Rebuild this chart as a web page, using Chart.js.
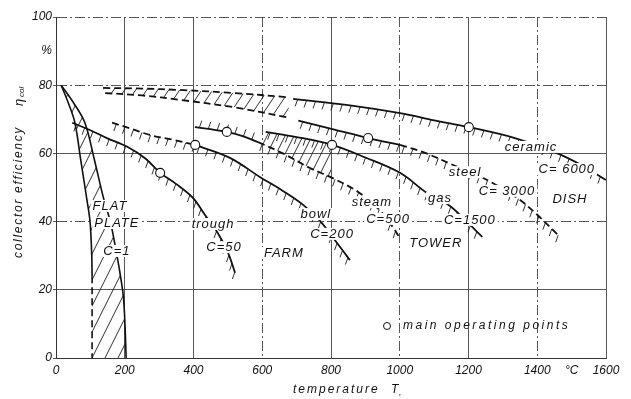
<!DOCTYPE html>
<html>
<head>
<meta charset="utf-8">
<script src="https://cdn.jsdelivr.net/npm/chart.js@4.4.1/dist/chart.umd.min.js"></script>
<style>
  html, body { margin: 0; padding: 0; background: #fff; }
  #wrap { width: 631px; height: 399px; }
</style>
</head>
<body>
<div id="wrap"><canvas id="c" width="631" height="399"></canvas></div>
<script>
// values: [temperature in °C, collector efficiency in %]
const flatLeft = [[15, 80], [35, 75], [55, 69], [72, 58], [89, 47], [99, 40], [104, 30], [105, 24]];
const flatLeftDash = [[105, 24], [105, 0]];
const flatRight = [[15, 80], [50, 75], [84, 69], [112, 58], [138, 47], [158, 40], [172, 33], [186, 25], [196, 18], [201, 9], [204, 0]];
const trough = [[47, 69], [100, 66.8], [148, 64.5], [206, 62], [260, 58.5], [303, 54.3], [350, 51], [399, 46.9], [433, 42], [471, 36.6], [500, 31], [521, 25]];
const bowlDash = [[163, 69], [220, 67.2], [273, 65.4], [340, 64], [405, 62.5]];
const bowl = [[405, 62.5], [506, 58.7], [593, 53.1], [660, 49], [719, 44.9], [768, 40.2], [811, 34.6], [855, 28.7]];
const steam = [[404, 67.7], [450, 67.1], [497, 66.3], [545, 65], [588, 63.3]];
const steamDash = [[588, 63.3], [660, 60], [739, 55.7], [810, 52.5], [879, 48.7], [940, 43.5], [980, 38.4], [1000, 35.2]];
const gas = [[610, 66.3], [700, 64.8], [803, 62.5], [900, 58.8], [1001, 54.3], [1079, 48.4], [1140, 45], [1175, 42], [1210, 38.5], [1240, 35.5]];
const steelDash = [[143, 77.7], [250, 77], [361, 75.7], [520, 73.5], [681, 70.4]];
const steel = [[705, 69.6], [810, 67], [908, 64.5], [1001, 62.5]];
const steelDash2 = [[1001, 62.5], [1070, 60.3], [1155, 56.6], [1250, 52.4], [1341, 47], [1400, 42], [1461, 36]];
const ceramicDash = [[137, 79.2], [250, 79], [361, 78.6], [520, 77.7], [672, 76.5]];
const ceramic = [[690, 76], [860, 74], [1001, 71.8], [1100, 69.7], [1201, 67.7], [1335, 64.5], [1457, 60.1], [1530, 56.5], [1600, 52.2]];
const mainPoints = [[303, 54.3], [405, 62.5], [497, 66.3], [803, 62.5], [908, 64.5], [1201, 67.7]];

const xTicks = [0, 200, 400, 600, 800, 1000, 1200, 1400, 1500, 1600];
const yTicks = [0, 20, 40, 60, 80, 90, 100];
const xTickText = { 1500: '°C' };
const yTickText = { 90: '%' };
const dashDotX = [600, 1000, 1400];
const dashDotY = [40, 80, 100];

const curveLabels = [
  ['FLAT', 157, 44.6], ['PLATE', 177, 39.6], ['C=1', 177, 31.4],
  ['trough', 457, 39.3], ['C=50', 489, 32.5], ['FARM', 663, 30.8],
  ['bowl', 756, 42.2], ['C=200', 803, 36.4],
  ['steam', 919, 45.7], ['C=500', 966, 40.8], ['TOWER', 1105, 33.7],
  ['gas', 1117, 46.9], ['C=1500', 1204, 40.5],
  ['steel', 1190, 54.5], ['C= 3000', 1312, 49],
  ['ceramic', 1382, 61.9], ['C= 6000', 1486, 55.4], ['DISH', 1495, 46.6]
];

// which curves carry short hatch ticks, and on which side
const tickHatch = {
  trough: 'down', bowlDash: 'down', bowl: 'down', steam: 'up', steamDash: 'down',
  gas: 'down', steel: 'down', steelDash2: 'down', ceramic: 'down'
};
// hatched bands between two boundaries
const bands = [
  { top: ['flatLeft', 'flatLeftDash'], bottom: ['flatRight'], step: 13, slope: 2 },
  { top: ['ceramicDash'], bottom: ['steelDash'], step: 11, slope: 1.5 },
  { top: ['gas'], bottom: ['steam', 'steamDash'], step: 9, slope: 2, from: 600, to: 800 }
];

const pts = (arr) => arr.map(([x, y]) => ({ x, y }));

function curve(label, arr, dashed, width) {
  return {
    label,
    data: pts(arr),
    borderColor: '#111',
    borderWidth: width || 1.8,
    borderDash: dashed ? [7, 4] : [],
    pointRadius: 0,
    tension: label === 'flatLeftDash' ? 0 : 0.35,
    fill: false,
    order: 1
  };
}

function densePoints(chart, label) {
  const i = chart.data.datasets.findIndex((d) => d.label === label);
  const p = chart.getDatasetMeta(i).data;
  const out = [{ x: p[0].x, y: p[0].y }];
  for (let k = 1; k < p.length; k++) {
    const a = p[k - 1], b = p[k];
    const c1x = a.cp2x ?? a.x, c1y = a.cp2y ?? a.y;
    const c2x = b.cp1x ?? b.x, c2y = b.cp1y ?? b.y;
    for (let s = 1; s <= 12; s++) {
      const t = s / 12, u = 1 - t;
      out.push({
        x: u * u * u * a.x + 3 * u * u * t * c1x + 3 * u * t * t * c2x + t * t * t * b.x,
        y: u * u * u * a.y + 3 * u * u * t * c1y + 3 * u * t * t * c2y + t * t * t * b.y
      });
    }
  }
  return out;
}

function hatchTicks(chart, name, side) {
  const ctx = chart.ctx;
  const p = densePoints(chart, name);
  const step = 9, len = 7;
  let carry = step / 2;
  ctx.beginPath();
  for (let i = 1; i < p.length; i++) {
    const a = p[i - 1], b = p[i];
    const seg = Math.hypot(b.x - a.x, b.y - a.y);
    let d = carry;
    while (d <= seg) {
      const t = d / seg, x = a.x + (b.x - a.x) * t, y = a.y + (b.y - a.y) * t;
      ctx.moveTo(x, y);
      if (side === 'down') ctx.lineTo(x - 2.5, y + len);
      else ctx.lineTo(x + 2.5, y - len);
      d += step;
    }
    carry = d - seg;
  }
  ctx.stroke();
}

function hatchBand(chart, band) {
  const ctx = chart.ctx, area = chart.chartArea, xs = chart.scales.x;
  const top = band.top.flatMap((n) => densePoints(chart, n));
  const bottom = band.bottom.flatMap((n) => densePoints(chart, n)).reverse();
  ctx.save();
  ctx.beginPath();
  [...top, ...bottom].forEach((q, i) => (i ? ctx.lineTo(q.x, q.y) : ctx.moveTo(q.x, q.y)));
  ctx.closePath();
  ctx.clip();
  if (band.from !== undefined) {
    const x0 = xs.getPixelForValue(band.from), x1 = xs.getPixelForValue(band.to);
    ctx.beginPath();
    ctx.rect(x0, area.top, x1 - x0, area.bottom - area.top);
    ctx.clip();
  }
  const h = area.bottom - area.top;
  ctx.beginPath();
  for (let x = area.left - h; x < area.right + 10; x += band.step) {
    ctx.moveTo(x, area.bottom);
    ctx.lineTo(x + h / band.slope, area.top);
  }
  ctx.stroke();
  ctx.restore();
}

const drawing = {
  id: 'drawing',
  beforeDatasetsDraw(chart) {
    const ctx = chart.ctx, a = chart.chartArea;
    ctx.save();
    ctx.beginPath();
    ctx.rect(a.left, a.top, a.right - a.left, a.bottom - a.top);
    ctx.clip();
    ctx.strokeStyle = '#1a1a1a';
    ctx.lineWidth = 0.9;
    bands.forEach((b) => hatchBand(chart, b));
    Object.entries(tickHatch).forEach(([name, side]) => hatchTicks(chart, name, side));
    ctx.restore();
  },
  afterDatasetsDraw(chart) {
    const ctx = chart.ctx, xs = chart.scales.x, ys = chart.scales.y;
    ctx.save();
    ctx.font = 'italic 13px "Liberation Sans"';
    ctx.letterSpacing = '1px';
    ctx.textAlign = 'center';
    ctx.textBaseline = 'middle';
    curveLabels.forEach(([text, x, y]) => {
      const px = xs.getPixelForValue(x), py = ys.getPixelForValue(y);
      const w = ctx.measureText(text).width;
      ctx.fillStyle = '#fff';
      ctx.fillRect(px - w / 2 - 2, py - 6, w + 4, 12);
      ctx.fillStyle = '#111';
      ctx.fillText(text, px, py + 0.5);
    });
    // legend for the circles
    ctx.beginPath();
    ctx.arc(387, 326, 3.5, 0, Math.PI * 2);
    ctx.fillStyle = '#fff';
    ctx.fill();
    ctx.strokeStyle = '#111';
    ctx.lineWidth = 1;
    ctx.stroke();
    ctx.font = 'italic 12px "Liberation Sans"';
    ctx.letterSpacing = '2.5px';
    ctx.textAlign = 'left';
    ctx.fillStyle = '#111';
    ctx.fillText('main operating points', 403, 326);
    ctx.restore();
  },
  afterDraw(chart) {
    const ctx = chart.ctx;
    ctx.save();
    ctx.fillStyle = '#111';
    ctx.textBaseline = 'middle';
    ctx.textAlign = 'left';
    ctx.font = 'italic 12px "Liberation Sans"';
    ctx.letterSpacing = '2px';
    ctx.fillText('temperature', 293, 390);
    ctx.fillText('T', 391, 390);
    ctx.font = 'italic 9px "Liberation Sans"';
    ctx.fillText(',', 399, 392);
    ctx.translate(19, 170);
    ctx.rotate(-Math.PI / 2);
    ctx.font = 'italic 12px "Liberation Sans"';
    ctx.letterSpacing = '1.7px';
    ctx.fillText('collector efficiency', -88, 0);
    ctx.letterSpacing = '0px';
    ctx.font = 'italic 13px "Liberation Sans"';
    ctx.fillText('η', 64, 0);
    ctx.font = 'italic 8px "Liberation Sans"';
    ctx.fillText('col', 73, 3);
    ctx.restore();
  }
};

const tickFont = { family: 'Liberation Sans', size: 12, style: 'italic' };

new Chart(document.getElementById('c'), {
  type: 'line',
  data: {
    datasets: [
      curve('flatLeft', flatLeft, false, 1.6),
      curve('flatLeftDash', flatLeftDash, true, 1.6),
      curve('flatRight', flatRight, false, 1.6),
      curve('trough', trough),
      curve('bowlDash', bowlDash, true),
      curve('bowl', bowl),
      curve('steam', steam),
      curve('steamDash', steamDash, true),
      curve('gas', gas),
      curve('steelDash', steelDash, true),
      curve('steel', steel),
      curve('steelDash2', steelDash2, true),
      curve('ceramicDash', ceramicDash, true),
      curve('ceramic', ceramic),
      {
        type: 'scatter',
        label: 'main operating points',
        data: pts(mainPoints),
        pointRadius: 4.5,
        pointBackgroundColor: '#fff',
        pointBorderColor: '#111',
        pointBorderWidth: 1.1,
        showLine: false,
        order: 0
      }
    ]
  },
  options: {
    responsive: false,
    animation: false,
    devicePixelRatio: 1,
    layout: { padding: { top: 17, right: 25, left: 0, bottom: 0 } },
    plugins: { legend: { display: false }, tooltip: { enabled: false } },
    scales: {
      x: {
        type: 'linear',
        min: 0,
        max: 1600,
        afterBuildTicks: (s) => { s.ticks = xTicks.map((v) => ({ value: v })); },
        afterFit: (s) => { s.height = 41; },
        ticks: {
          autoSkip: false,
          maxRotation: 0,
          padding: 5,
          color: '#111',
          font: tickFont,
          callback: (v) => xTickText[v] ?? v
        },
        grid: {
          color: (c) => (c.tick && c.tick.value === 1500 ? 'rgba(0,0,0,0)' : '#444'),
          lineWidth: 0.9,
          drawTicks: false
        },
        border: {
          color: '#333',
          width: 1,
          dash: (c) => (c.tick && dashDotX.includes(c.tick.value) ? [10, 3, 2, 3] : [])
        }
      },
      y: {
        min: 0,
        max: 100,
        afterBuildTicks: (s) => { s.ticks = yTicks.map((v) => ({ value: v })); },
        afterFit: (s) => { s.width = 56; },
        ticks: {
          autoSkip: false,
          padding: 1,
          color: '#111',
          font: tickFont,
          callback: (v) => yTickText[v] ?? v
        },
        grid: {
          color: (c) => (c.tick && c.tick.value === 90 ? 'rgba(0,0,0,0)' : '#444'),
          lineWidth: 0.9,
          tickLength: 3
        },
        border: {
          color: '#333',
          width: 1,
          dash: (c) => (c.tick && dashDotY.includes(c.tick.value) ? [10, 3, 2, 3] : [])
        }
      }
    }
  },
  plugins: [drawing]
});
</script>
</body>
</html>
